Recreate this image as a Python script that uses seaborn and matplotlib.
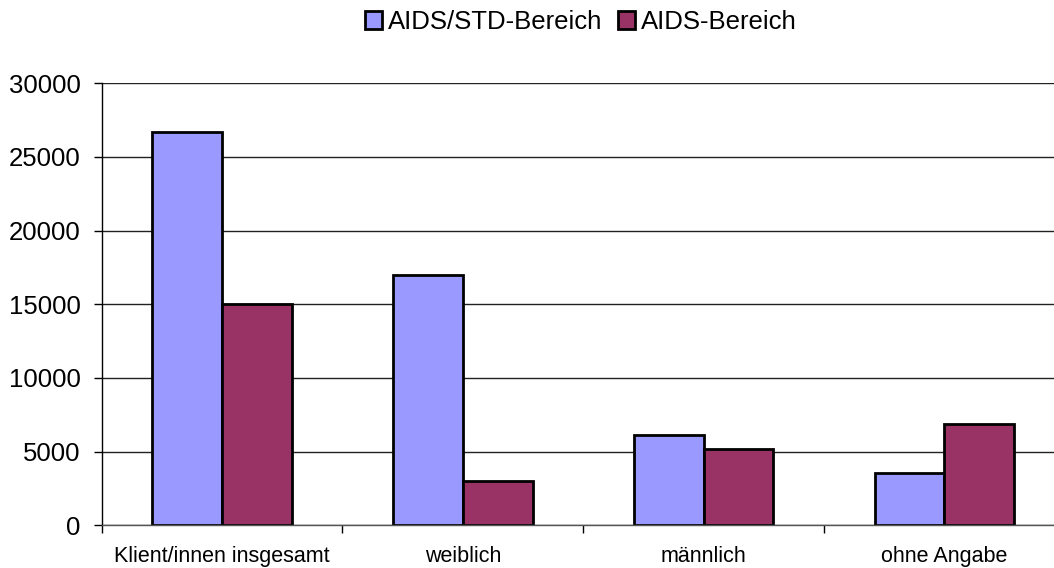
import matplotlib
matplotlib.use("Agg")
import matplotlib.pyplot as plt
import seaborn as sns
import pandas as pd

categories = ["Klient/innen insgesamt", "weiblich", "männlich", "ohne Angabe"]
series_names = ["AIDS/STD-Bereich", "AIDS-Bereich"]
aids_std = [26670, 16980, 6110, 3550]
aids = [15000, 3000, 5180, 6860]
y_ticks = [0, 5000, 10000, 15000, 20000, 25000, 30000]
palette = ["#9999FF", "#993366"]

df = pd.DataFrame({
    "Kategorie": categories * 2,
    "Bereich": [series_names[0]] * len(categories) + [series_names[1]] * len(categories),
    "Anzahl": aids_std + aids,
})

sns.set_theme(style="white")
plt.rcParams["font.family"] = ["Liberation Sans", "DejaVu Sans"]
plt.rcParams["text.color"] = "black"
plt.rcParams["xtick.color"] = "black"
plt.rcParams["ytick.color"] = "black"

fig = plt.figure(figsize=(10.54, 5.68), dpi=100)
ax = fig.add_axes([101.7 / 1054, (568 - 525.3) / 568, 963 / 1054, 442 / 568])

sns.barplot(data=df, x="Kategorie", y="Anzahl", hue="Bereich", order=categories,
            hue_order=series_names, palette=palette, width=0.58, gap=0,
            edgecolor="black", linewidth=2.0, saturation=1, ax=ax, legend=True)

ax.set_ylim(0, 30000)
ax.set_xlim(-0.5, 3.5)
ax.set_yticks(y_ticks)
ax.set_yticklabels([str(v) for v in y_ticks], fontsize=18.5, color="black")
ax.set_xticks(range(len(categories)))
ax.set_xticklabels(categories, fontsize=15.5, color="black")
ax.set_xlabel("")
ax.set_ylabel("")
ax.yaxis.grid(True, color="#222222", linewidth=1.0)
ax.set_axisbelow(True)

for s in ["top", "right"]:
    ax.spines[s].set_visible(False)
ax.spines["left"].set_color("black")
ax.spines["left"].set_linewidth(1.0)
ax.spines["bottom"].set_color("#555555")
ax.spines["bottom"].set_linewidth(1.0)

ax.tick_params(axis="y", which="major", length=6, width=1, color="black", pad=9, left=True)
ax.tick_params(axis="x", which="major", length=0, pad=15)
ax.set_xticks([-0.5, 0.5, 1.5, 2.5, 3.5], minor=True)
ax.tick_params(axis="x", which="minor", length=6, width=1, color="black", bottom=True)

handles, labels = ax.get_legend_handles_labels()
ax.legend_.remove()
fig.legend(handles, labels, loc="center", bbox_to_anchor=(581 / 1054, 1 - 22 / 568),
           ncol=2, frameon=False, fontsize=18.5, handlelength=0.66, handleheight=0.66,
           handletextpad=0.25, columnspacing=0.6, borderaxespad=0, borderpad=0)

fig.savefig("out.png", dpi=100)
